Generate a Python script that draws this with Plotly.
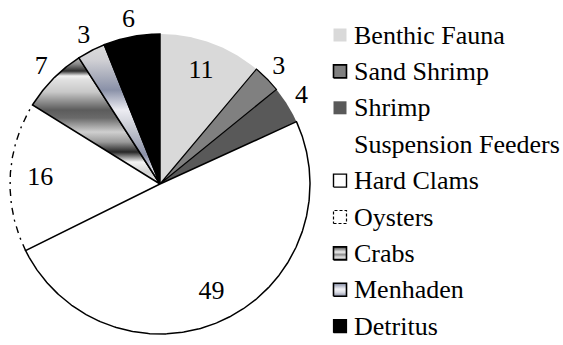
import numpy as np
import plotly.graph_objects as go

# Food-web share (%) of each prey group, clockwise from 12 o'clock
categories = ["Benthic Fauna", "Sand Shrimp", "Shrimp", "Hard Clams",
              "Oysters", "Crabs", "Menhaden", "Detritus"]
values = [11, 3, 4, 49, 16, 7, 3, 6]

# Key rows, with a plain heading above the suspension feeders
legend_rows = ["Benthic Fauna", "Sand Shrimp", "Shrimp", "Suspension Feeders",
               "Hard Clams", "Oysters", "Crabs", "Menhaden", "Detritus"]
heading = "Suspension Feeders"

FONT = "Liberation Serif"
FS = 26
W, H = 563, 345
PX = 150.0                     # pixels per unit radius
CX, CY = 160.0, 184.0          # pie centre in pixels
ROW0, ROW_STEP = 35.0, 36.4    # key row centres in pixels
KEY_X, KEY_HALF, KEY_TEXT_X = 340.0, 6.5, 352.0

# Chrome-like banding used by two of the slices: (pixel row, colour) from top to centre
crab_bands = [(58, "#bdbdbd"), (64, "#8a8a8a"), (71, "#2e2e2e"), (76, "#f2f2f2"),
              (80, "#e0e0e0"), (92, "#c8c8c8"), (110, "#5c5c5c"), (118, "#6a6a6a"),
              (132, "#cfcfcf"), (142, "#9a9a9a"), (152, "#262626"), (162, "#f4f4f4"),
              (172, "#d4d4d4"), (184, "#e6e6e6")]
menhaden_bands = [(45, "#dcdcdc"), (60, "#d0d0d4"), (90, "#8a91a8"), (110, "#ececf2"),
                  (130, "#c4c7d0"), (155, "#8a90a8"), (172, "#e8e8ee"), (184, "#c0c4cc")]

style = {
    "Benthic Fauna": dict(fill="#d9d9d9", lw=0),
    "Sand Shrimp": dict(fill="#808080", lw=1.2),
    "Shrimp": dict(fill="#595959", lw=0),
    "Hard Clams": dict(fill="#ffffff", lw=1.5),
    "Oysters": dict(fill="#ffffff", lw=0),
    "Crabs": dict(fill="#c8c8c8", lw=1.5, bands=crab_bands),
    "Menhaden": dict(fill="#c8ccd4", lw=1.5, bands=menhaden_bands),
    "Detritus": dict(fill="#000000", lw=1.5),
}
# Key swatches: fill, border width, optional stripes (position from bottom, colour)
swatch = {
    "Benthic Fauna": dict(fill="#d9d9d9", lw=0),
    "Sand Shrimp": dict(fill="#808080", lw=1.6),
    "Shrimp": dict(fill="#595959", lw=0),
    "Hard Clams": dict(fill="#ffffff", lw=1.4),
    "Oysters": dict(fill="#ffffff", lw=1.2, dash="3px,2px"),
    "Crabs": dict(fill="#bbbbbb", lw=1.6,
                  stripes=[[0, "#555555"], [0.2, "#e6e6e6"], [0.4, "#8c8c8c"],
                           [0.6, "#eeeeee"], [0.8, "#9a9a9a"], [1, "#4a4a4a"]]),
    "Menhaden": dict(fill="#c8ccd4", lw=1.6,
                     stripes=[[0, "#8a90a8"], [0.3, "#d8dae2"], [0.55, "#f4f4f8"],
                              [0.8, "#b8bccb"], [1, "#7e859e"]]),
    "Detritus": dict(fill="#000000", lw=1.2),
}

total = sum(values)
edges = np.concatenate([[0], np.cumsum(values)]) / total * 2 * np.pi


def wedge(a0, a1):
    t = np.linspace(a0, a1, max(int(np.degrees(a1 - a0) * 2), 4))
    xs = np.concatenate([[0], np.sin(t), [0]])
    ys = np.concatenate([[0], np.cos(t), [0]])
    return xs, ys


def colorscale_from(bands, top_px):
    # position 0 is the pie centre (lowest y), 1 the top of the slice
    span = CY - top_px
    stops = []
    for py, c in bands:
        p = 1 - (py - top_px) / span
        stops.append([float(min(max(p, 0.0), 1.0)), c])
    stops.sort(key=lambda s: s[0])
    stops[0][0] = 0.0
    stops[-1][0] = 1.0
    return stops


def px_to_data(px_x, px_y):
    return (px_x - CX) / PX, (CY - px_y) / PX


fig = go.Figure()

# Slices without outlines first, outlined ones last so their borders stay on top
draw_order = ["Benthic Fauna", "Shrimp", "Oysters", "Sand Shrimp",
              "Hard Clams", "Crabs", "Menhaden", "Detritus"]
for name in draw_order:
    i = categories.index(name)
    xs, ys = wedge(edges[i], edges[i + 1])
    st = style[name]
    kw = dict(x=xs, y=ys, mode="lines", fill="toself", showlegend=False,
              hoverinfo="skip", fillcolor=st["fill"], name=name,
              line=dict(color="black", width=st["lw"]))
    if "bands" in st:
        top_px = CY - ys.max() * PX
        kw["fillgradient"] = dict(type="vertical",
                                  colorscale=colorscale_from(st["bands"], top_px))
    if st["lw"] == 0:
        kw["line"] = dict(color=st["fill"], width=0)
    fig.add_trace(go.Scatter(**kw))

# Dash-dot rim of the oyster slice
i = categories.index("Oysters")
t = np.linspace(edges[i], edges[i + 1], 120)
fig.add_trace(go.Scatter(x=np.sin(t), y=np.cos(t), mode="lines", showlegend=False,
                         hoverinfo="skip",
                         line=dict(color="black", width=1.4, dash="7px,5px,2px,5px")))

# Value labels: inside for the big slices, just outside the rim for the rest
mid = (edges[:-1] + edges[1:]) / 2
rad = np.array([0.80 if v >= 10 else 1.11 for v in values])
fig.add_trace(go.Scatter(x=rad * np.sin(mid), y=rad * np.cos(mid), mode="text",
                         text=[str(v) for v in values], showlegend=False,
                         hoverinfo="skip",
                         textfont=dict(family=FONT, size=26, color="black")))

# Key: a swatch and a label per row
for k, name in enumerate(legend_rows):
    row_px = ROW0 + k * ROW_STEP
    fig.add_annotation(x=KEY_TEXT_X / W, y=1 - row_px / H, xref="paper", yref="paper",
                       xanchor="left", yanchor="middle", showarrow=False,
                       text=name, font=dict(family=FONT, size=FS, color="black"))
    if name == heading:
        continue
    sw = swatch[name]
    x0, y0 = px_to_data(KEY_X - KEY_HALF, row_px + KEY_HALF)
    x1, y1 = px_to_data(KEY_X + KEY_HALF, row_px - KEY_HALF)
    kw = dict(x=[x0, x1, x1, x0, x0], y=[y0, y0, y1, y1, y0], mode="lines",
              fill="toself", fillcolor=sw["fill"], showlegend=False, hoverinfo="skip",
              line=dict(color="black" if sw["lw"] else sw["fill"], width=sw["lw"],
                        dash=sw.get("dash", "solid")))
    if "stripes" in sw:
        kw["fillgradient"] = dict(type="vertical", colorscale=sw["stripes"])
    fig.add_trace(go.Scatter(**kw))

fig.update_layout(
    width=W, height=H,
    margin=dict(l=0, r=0, t=0, b=0),
    paper_bgcolor="white", plot_bgcolor="white",
    font=dict(family=FONT),
    xaxis=dict(range=[-CX / PX, (W - CX) / PX], visible=False, fixedrange=True),
    yaxis=dict(range=[-(H - CY) / PX, CY / PX], visible=False, fixedrange=True),
    showlegend=False,
)

fig.write_html("out.html")
